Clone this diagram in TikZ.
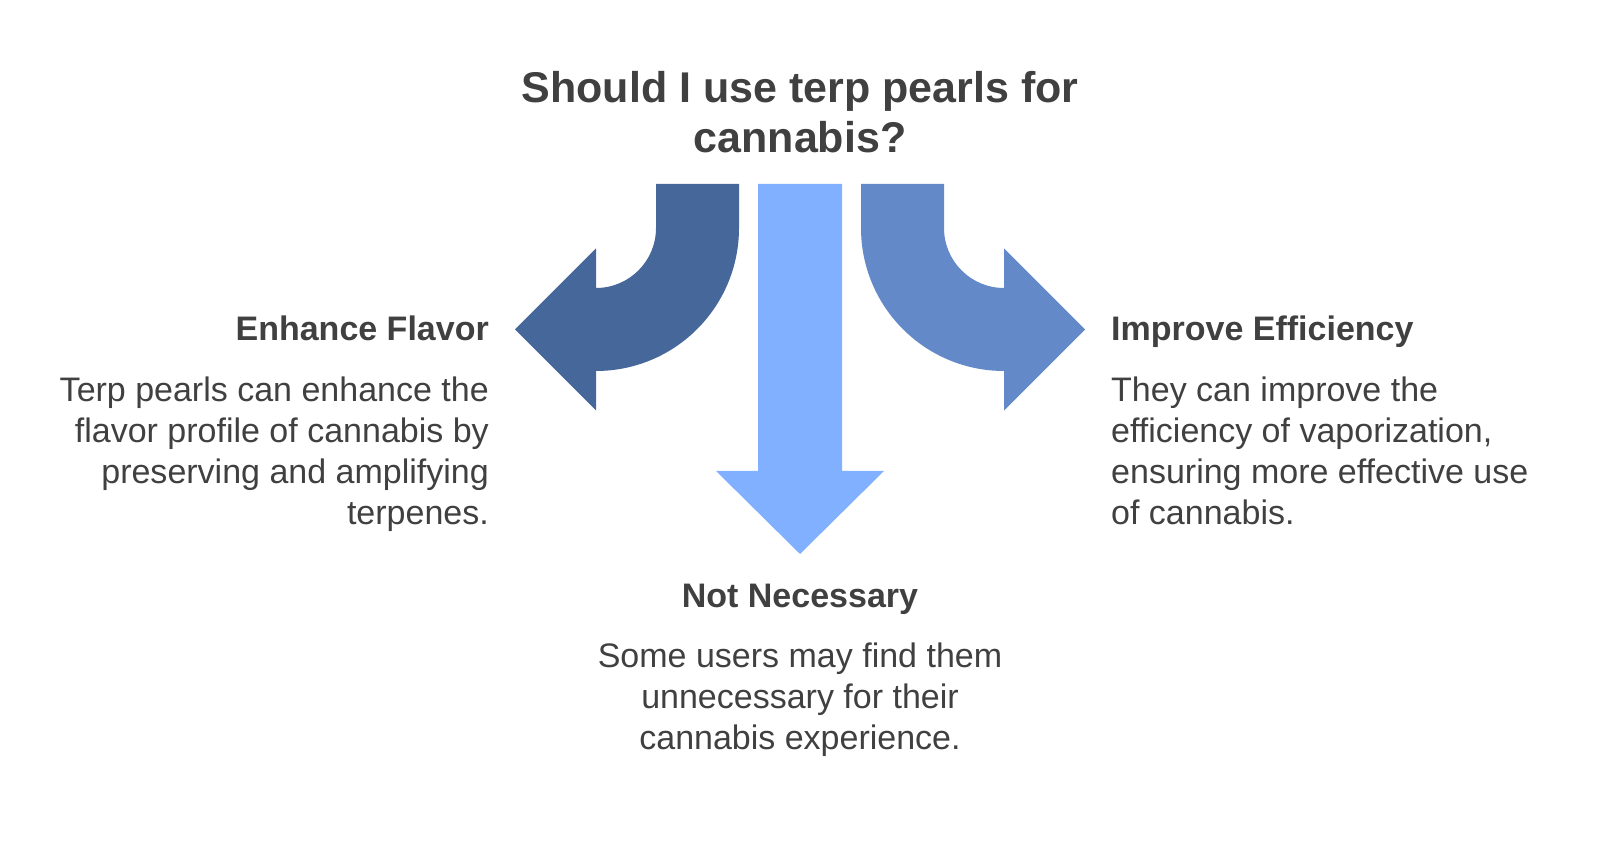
\documentclass[tikz,border=0pt]{standalone}
\usepackage{fontspec}
\setmainfont{Liberation Sans}
\definecolor{leftblue}{HTML}{46679A}
\definecolor{downblue}{HTML}{80B0FF}
\definecolor{rightblue}{HTML}{6389C8}
\definecolor{textgray}{HTML}{404040}

\begin{document}
\begin{tikzpicture}[x=1pt,y=1pt,
    title/.style={font=\fontsize{43}{50}\selectfont\bfseries, text=textgray, align=center, inner sep=0pt},
    heading/.style={font=\fontsize{34}{41}\selectfont\bfseries, text=textgray, inner sep=0pt},
    body/.style={font=\fontsize{34}{41}\selectfont, text=textgray, inner sep=0pt}]
    \useasboundingbox (0,0) rectangle (1600,842);
    % the question
    \node[title, anchor=base] (question) at (800,689) {Should I use terp pearls for\\cannabis?};
    % three arrows
    \fill[leftblue] (739,658) -- (739,614) arc[start angle=0, end angle=-90, radius=143pt]
        -- (596,431.5) -- (515,512.5) -- (596,593.5) -- (596,554)
        arc[start angle=-90, end angle=0, radius=60pt] -- (656,658) -- cycle;
    \fill[downblue] (758,658) -- (758,371) -- (716,371) -- (800,288)
        -- (884,371) -- (842,371) -- (842,658) -- cycle;
    \fill[rightblue] (861,658) -- (861,614) arc[start angle=180, end angle=270, radius=143pt]
        -- (1004,431.5) -- (1085,512.5) -- (1004,593.5) -- (1004,554)
        arc[start angle=270, end angle=180, radius=60pt] -- (944,658) -- cycle;
    % left
    \node[heading, anchor=base east] (flavor) at (489,501) {Enhance Flavor};
    \node[body, align=right, anchor=base east] (flavortext) at (489,317)
        {Terp pearls can enhance the\\flavor profile of cannabis by\\preserving and amplifying\\terpenes.};
    % right
    \node[heading, anchor=base west] (efficiency) at (1111,501) {Improve Efficiency};
    \node[body, align=left, anchor=base west] (efficiencytext) at (1111,317)
        {They can improve the\\efficiency of vaporization,\\ensuring more effective use\\of cannabis.};
    % bottom
    \node[heading, anchor=base] (notneeded) at (800,234) {Not Necessary};
    \node[body, align=center, anchor=base] (notneededtext) at (800,92)
        {Some users may find them\\unnecessary for their\\cannabis experience.};
\end{tikzpicture}
\end{document}
